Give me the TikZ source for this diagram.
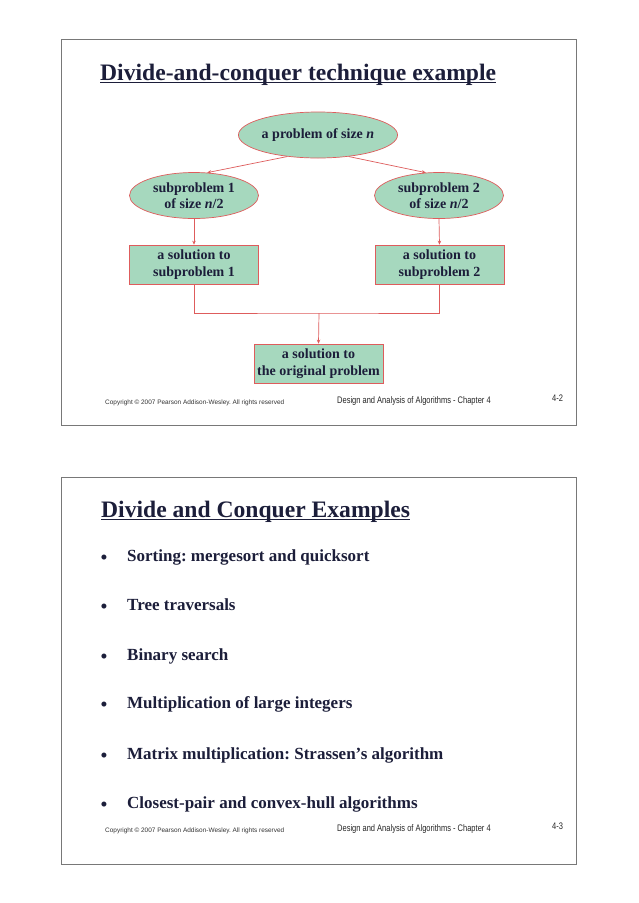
\documentclass[tikz,border=0pt]{standalone}
\usepackage{fontspec}
\setmainfont{Liberation Serif}
\newfontfamily\footsans{Liberation Sans}
\newfontfamily\narrowsans[FakeStretch=0.79]{Liberation Sans}
\usetikzlibrary{shapes.geometric,arrows.meta}
\definecolor{navy}{RGB}{28,30,58}
\definecolor{mint}{RGB}{166,216,190}
\definecolor{redline}{RGB}{222,92,92}
\definecolor{frameg}{RGB}{120,120,120}
\tikzset{
  frame/.style={draw=frameg,line width=0.9pt},
  ttl/.style={anchor=base west,inner sep=0pt,text=navy,font=\fontsize{23.6}{28}\selectfont\bfseries},
  ell/.style={ellipse,draw=redline,fill=mint,line width=0.7pt,inner sep=0pt,
    minimum width=129pt,minimum height=46pt,align=center,text=navy,
    font=\fontsize{14}{16.5}\selectfont\bfseries},
  sbox/.style={rectangle,draw=redline,fill=mint,line width=0.7pt,inner sep=0pt,
    minimum width=129pt,minimum height=39pt,align=center,text=navy,
    font=\fontsize{14}{16.5}\selectfont\bfseries},
  conn/.style={draw=redline,line width=0.7pt},
  arr/.style={conn,-{Stealth[length=4pt,width=3.5pt]}},
  bul/.style={anchor=base west,inner sep=0pt,text=navy,font=\fontsize{17}{20}\selectfont\bfseries},
  dot/.style={anchor=base,inner sep=0pt,text=navy,font=\fontsize{21}{22}\selectfont},
  copyr/.style={anchor=base west,inner sep=0pt,text=black!80,font=\footsans\fontsize{6.45}{7}\selectfont},
  dsgn/.style={anchor=base west,inner sep=0pt,text=black!85,font=\narrowsans\fontsize{9.5}{11}\selectfont},
  pnum/.style={anchor=base west,inner sep=0pt,text=black!85,font=\narrowsans\fontsize{9.5}{11}\selectfont}
}
\begin{document}
\frenchspacing
\begin{tikzpicture}[x=1pt,y=-1pt]
\useasboundingbox[fill=white] (0,0) rectangle (638,903);
% ---------- slide 1 ----------
\draw[frame] (61,39) rectangle (576,425);
\node[ttl] (t1) at (100,80) {Divide-and-conquer technique example};
\draw[navy,line width=1pt] (t1.base west)++(0,2.5) -- (t1.base east |- 0,82.5);
\node[ell] (top) at (318,135) {a problem of size \textit{n}};
\node[ell] (s1) at (194,195.5) {subproblem 1\\of size \textit{n}/2};
\node[ell] (s2) at (439,195.5) {subproblem 2\\of size \textit{n}/2};
\node[sbox] (b1) at (194,264.5) {a solution to\\subproblem 1};
\node[sbox] (b2) at (439.5,264.5) {a solution to\\subproblem 2};
\node[sbox] (b3) at (318.5,363.5) {a solution to\\the original problem};
\coordinate (j) at (319,313);
\draw[arr] (top.215) -- (s1.60);
\draw[arr] (top.-35) -- (s2.120);
\draw[arr] (s1.south) -- (b1.north);
\draw[arr] (s2.south) -- (b2.north);
\draw[conn] (b1.south) |- (j) -| (b2.south);
\draw[arr] (j) -- (b3.north);
\node[copyr] (c1) at (105,404) {Copyright © 2007 Pearson Addison-Wesley. All rights reserved};
\node[dsgn] (d1) at (337,403) {Design and Analysis of Algorithms - Chapter 4};
\node[pnum] (p1) at (552,401) {4-2};
% ---------- slide 2 ----------
\draw[frame] (61,477) rectangle (576,864);
\node[ttl] (t2) at (101,517) {Divide and Conquer Examples};
\draw[navy,line width=1pt] (t2.base west)++(0,2.5) -- (t2.base east |- 0,519.5);
\node[dot] (u1) at (104,564.5) {•};
\node[bul] (l1) at (127,561) {Sorting: mergesort and quicksort};
\node[dot] (u2) at (104,613.5) {•};
\node[bul] (l2) at (127,610) {Tree traversals};
\node[dot] (u3) at (104,663.5) {•};
\node[bul] (l3) at (127,660) {Binary search};
\node[dot] (u4) at (104,711.5) {•};
\node[bul] (l4) at (127,708) {Multiplication of large integers};
\node[dot] (u5) at (104,762.5) {•};
\node[bul] (l5) at (127,759) {Matrix multiplication: Strassen’s algorithm};
\node[dot] (u6) at (104,811.5) {•};
\node[bul] (l6) at (127,808) {Closest-pair and convex-hull algorithms};
\node[copyr] (c2) at (105,832) {Copyright © 2007 Pearson Addison-Wesley. All rights reserved};
\node[dsgn] (d2) at (337,831) {Design and Analysis of Algorithms - Chapter 4};
\node[pnum] (p2) at (552,829) {4-3};
\end{tikzpicture}
\end{document}
